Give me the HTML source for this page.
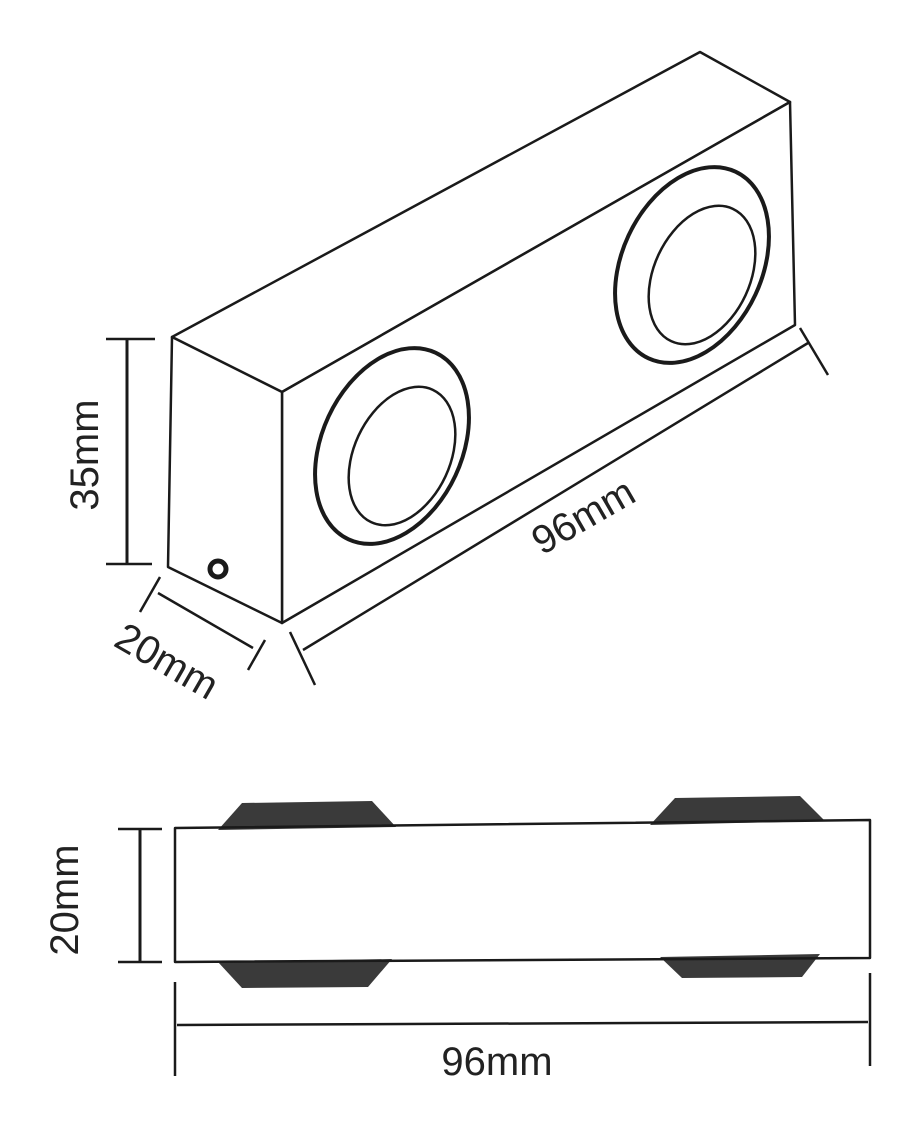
<!DOCTYPE html>
<html><head><style>body{margin:0;background:#fff}svg{display:block}text{font-family:"Liberation Sans",sans-serif;fill:#222}</style></head>
<body>
<svg width="917" height="1132" viewBox="0 0 917 1132" xmlns="http://www.w3.org/2000/svg" fill="none" stroke="#1a1a1a" stroke-width="2.5" stroke-linejoin="round">
<!-- box -->
<polygon points="172,337 700,52 790,102 282,392" fill="#fff"/>
<polygon points="282,392 790,102 795,325 282,623" fill="#fff"/>
<polygon points="172,337 282,392 282,623 168,567" fill="#fff"/>
<!-- lenses -->
<ellipse cx="392" cy="446" rx="70" ry="103" transform="rotate(25 392 446)" stroke-width="4"/>
<ellipse cx="402" cy="456" rx="48" ry="73" transform="rotate(25 402 456)"/>
<ellipse cx="692" cy="265" rx="70" ry="103" transform="rotate(25 692 265)" stroke-width="4"/>
<ellipse cx="702" cy="275" rx="48" ry="73" transform="rotate(25 702 275)"/>
<circle cx="218" cy="569" r="8" stroke-width="5"/>
<!-- 35mm -->
<line x1="127" y1="340" x2="127" y2="564" stroke-width="3"/>
<line x1="106" y1="339" x2="155" y2="339"/>
<line x1="106" y1="564" x2="152" y2="564"/>
<text transform="translate(98,455) rotate(-90)" text-anchor="middle" font-size="40" stroke="none">35mm</text>
<!-- 20mm -->
<line x1="158" y1="593" x2="253" y2="648"/>
<line x1="160" y1="577" x2="140" y2="612"/>
<line x1="265" y1="640" x2="248" y2="670"/>
<text transform="translate(112,645) rotate(30)" font-size="40" stroke="none">20mm</text>
<!-- 96mm -->
<line x1="303" y1="650" x2="808" y2="343"/>
<line x1="290" y1="632" x2="315" y2="685"/>
<line x1="800" y1="328" x2="828" y2="375"/>
<text transform="translate(590,528) rotate(-30)" text-anchor="middle" font-size="40" stroke="none">96mm</text>
<!-- bottom view pads -->
<g fill="#3a3a3a" stroke="none">
<polygon points="218,830 242,803 372,801 396,827"/>
<polygon points="650,825 675,798 800,796 825,821"/>
<polygon points="218,962 392,959 368,987 242,988"/>
<polygon points="660,957 820,954 802,977 682,978"/>
</g>
<polygon points="175,828 870,820 870,958 175,962" fill="none"/>
<!-- 20mm -->
<line x1="140" y1="830" x2="140" y2="961" stroke-width="3"/>
<line x1="118" y1="829" x2="162" y2="829"/>
<line x1="118" y1="962" x2="162" y2="962"/>
<text transform="translate(78,900) rotate(-90)" text-anchor="middle" font-size="40" stroke="none">20mm</text>
<!-- 96mm -->
<line x1="177" y1="1025" x2="868" y2="1022"/>
<line x1="175" y1="982" x2="175" y2="1076"/>
<line x1="870" y1="973" x2="870" y2="1066"/>
<text x="497" y="1075" text-anchor="middle" font-size="40" stroke="none">96mm</text>
</svg>
</body></html>
